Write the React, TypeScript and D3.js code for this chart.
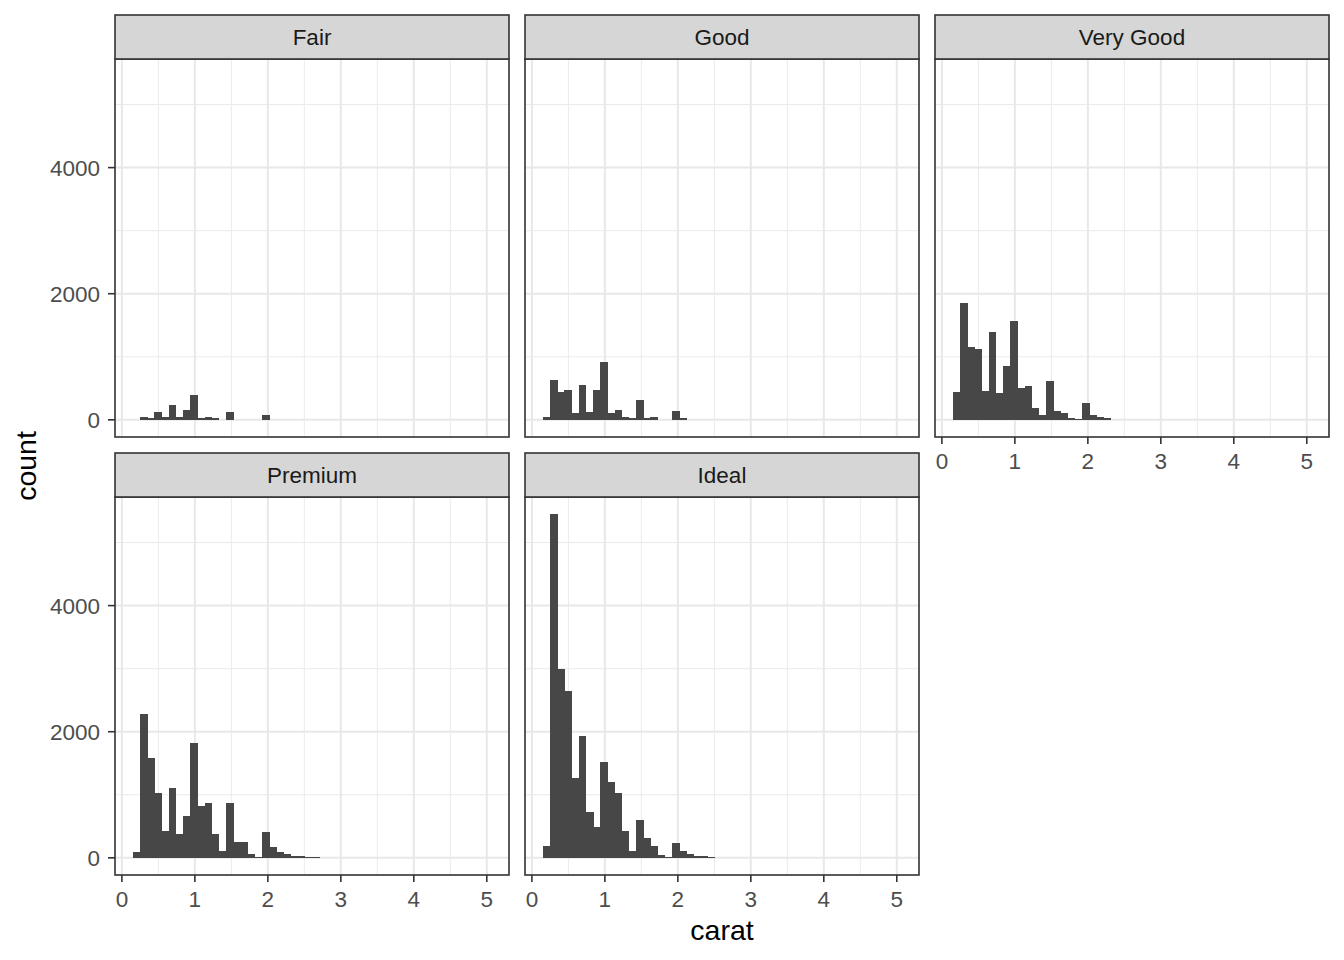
import React from "react";
import * as d3 from "d3";

// ---- data (histogram counts of diamond carat by cut, 50 bins) ----
const cuts = ["Fair", "Good", "Very Good", "Premium", "Ideal"];

const fairCounts = [3, 37, 21, 131, 37, 241, 52, 163, 399, 21, 52, 21, 5, 131, 5, 5, 5, 5, 84, 5, 5, 5, 2, 3, 1, 1, 1, 0, 3, 1, 0, 0, 1, 1, 0, 0, 0, 0, 0, 0, 0, 0, 0, 0, 0, 0, 0, 0, 0, 1];
const goodCounts = [52, 635, 446, 478, 115, 556, 131, 478, 919, 115, 163, 37, 21, 320, 21, 52, 5, 2, 147, 21, 5, 5, 5, 1, 1, 1, 1, 0, 0, 3, 0, 0, 0, 0, 0, 0, 0, 0, 0, 0, 0, 0, 0, 0, 0, 0, 0, 0, 0, 0];
const veryGoodCounts = [449, 1858, 1161, 1129, 464, 1398, 433, 860, 1573, 512, 544, 195, 69, 623, 132, 116, 21, 11, 274, 69, 42, 21, 5, 5, 5, 2, 2, 0, 0, 1, 0, 0, 0, 0, 0, 0, 0, 0, 0, 0, 0, 0, 0, 0, 0, 0, 0, 0, 0, 0];
const premiumCounts = [94, 2283, 1590, 1024, 425, 1102, 378, 661, 1827, 819, 866, 378, 110, 866, 252, 252, 68, 16, 409, 173, 94, 68, 31, 31, 16, 8, 3, 3, 2, 5, 1, 1, 1, 1, 0, 1, 1, 0, 1, 0, 0, 0, 0, 0, 0, 0, 0, 0, 0, 0];
const idealCounts = [180, 5450, 3000, 2640, 1259, 1926, 720, 481, 1513, 1196, 1021, 418, 106, 593, 307, 180, 37, 8, 228, 116, 53, 21, 21, 6, 5, 2, 1, 1, 1, 1, 1, 0, 0, 1, 0, 0, 0, 0, 0, 0, 0, 0, 0, 0, 0, 0, 0, 0, 0, 0];

const seriesByCut = [fairCounts, goodCounts, veryGoodCounts, premiumCounts, idealCounts];

const firstBinCenter = 0.2;
const lastBinCenter = 5.01;
const xTicks = [0, 1, 2, 3, 4, 5];
const xMinor = [0.5, 1.5, 2.5, 3.5, 4.5];
const yTicks = [0, 2000, 4000];
const yMinor = [1000, 3000, 5000];

// ---- layout ----
const W = 1344;
const H = 960;
const colLeft = [115, 525, 935];
const rowStripTop = [15, 453];
const panelW = 394;
const stripH = 44;
const panelH = 378;
const FONT = "'Liberation Sans', Arial, Helvetica, sans-serif";

export default function App() {
  const nBins = fairCounts.length;
  const binW = (lastBinCenter - firstBinCenter) / (nBins - 1);
  const lo = firstBinCenter - binW / 2;
  const hi = lastBinCenter + binW / 2;
  const xPad = 0.05 * (hi - lo);
  const maxCount = d3.max(seriesByCut.flat()) as number;
  const yPad = 0.05 * maxCount;

  const panels = cuts.map((cut, i) => {
    const col = i % 3;
    const row = Math.floor(i / 3);
    const left = colLeft[col];
    const stripTop = rowStripTop[row];
    const top = stripTop + stripH;
    const bottom = top + panelH;
    const x = d3.scaleLinear().domain([lo - xPad, hi + xPad]).range([left, left + panelW]);
    const y = d3.scaleLinear().domain([-yPad, maxCount + yPad]).range([bottom, top]);
    const showX = row === 1 || col === 2;
    const showY = col === 0;
    return { cut, i, left, stripTop, top, bottom, x, y, showX, showY, counts: seriesByCut[i] };
  });

  return (
    <div style={{ position: "absolute", left: 0, top: 0 }}>
      <svg width={W} height={H} style={{ display: "block", background: "#fff" }} fontFamily={FONT}>
        <rect x={0} y={0} width={W} height={H} fill="#ffffff" />
        {panels.map((p) => (
          <g key={p.cut}>
            <rect x={p.left} y={p.top} width={panelW} height={panelH} fill="#ffffff" />
            {/* minor grid */}
            {xMinor.map((v) => (
              <line key={"xm" + v} x1={p.x(v)} x2={p.x(v)} y1={p.top} y2={p.bottom} stroke="#ebebeb" strokeWidth={1} />
            ))}
            {yMinor.map((v) => (
              <line key={"ym" + v} x1={p.left} x2={p.left + panelW} y1={p.y(v)} y2={p.y(v)} stroke="#ebebeb" strokeWidth={1} />
            ))}
            {/* major grid */}
            {xTicks.map((v) => (
              <line key={"xM" + v} x1={p.x(v)} x2={p.x(v)} y1={p.top} y2={p.bottom} stroke="#e8e8e8" strokeWidth={2} />
            ))}
            {yTicks.map((v) => (
              <line key={"yM" + v} x1={p.left} x2={p.left + panelW} y1={p.y(v)} y2={p.y(v)} stroke="#e8e8e8" strokeWidth={2} />
            ))}
            {/* bars */}
            <g shapeRendering="crispEdges">
              {p.counts.map((c, k) => {
                if (c <= 0) return null;
                const center = firstBinCenter + k * binW;
                const x0 = p.x(center - binW / 2);
                const x1 = p.x(center + binW / 2);
                const y0 = p.y(c);
                const yb = p.y(0);
                return (
                  <rect key={"b" + k} x={x0} y={y0} width={x1 - x0 + 0.5} height={Math.max(yb - y0, 0.6)} fill="#474747" />
                );
              })}
            </g>
            {/* border */}
            <rect x={p.left} y={p.top} width={panelW} height={panelH} fill="none" stroke="#333333" strokeWidth={1.6} />
            {/* strip */}
            <rect x={p.left} y={p.stripTop} width={panelW} height={stripH} fill="#d6d6d6" stroke="#333333" strokeWidth={1.6} />
            <text x={p.left + panelW / 2} y={p.stripTop + stripH / 2 + 8.3} textAnchor="middle" fontSize={22.5} fill="#1a1a1a">
              {p.cut}
            </text>
            {/* x axis */}
            {p.showX &&
              xTicks.map((v) => (
                <g key={"xt" + v}>
                  <line x1={p.x(v)} x2={p.x(v)} y1={p.bottom} y2={p.bottom + 7} stroke="#333333" strokeWidth={1.6} />
                  <text x={p.x(v)} y={p.bottom + 31.5} textAnchor="middle" fontSize={22.5} fill="#4d4d4d">
                    {d3.format("d")(v)}
                  </text>
                </g>
              ))}
            {/* y axis */}
            {p.showY &&
              yTicks.map((v) => (
                <g key={"yt" + v}>
                  <line x1={p.left - 7} x2={p.left} y1={p.y(v)} y2={p.y(v)} stroke="#333333" strokeWidth={1.6} />
                  <text x={p.left - 15} y={p.y(v) + 8.1} textAnchor="end" fontSize={22.5} fill="#4d4d4d">
                    {d3.format("d")(v)}
                  </text>
                </g>
              ))}
          </g>
        ))}
        <text x={(colLeft[0] + colLeft[2] + panelW) / 2} y={940} textAnchor="middle" fontSize={28.5} fill="#000000">
          carat
        </text>
        <text transform={`translate(36, 466) rotate(-90)`} textAnchor="middle" fontSize={28.5} fill="#000000">
          count
        </text>
      </svg>
    </div>
  );
}
